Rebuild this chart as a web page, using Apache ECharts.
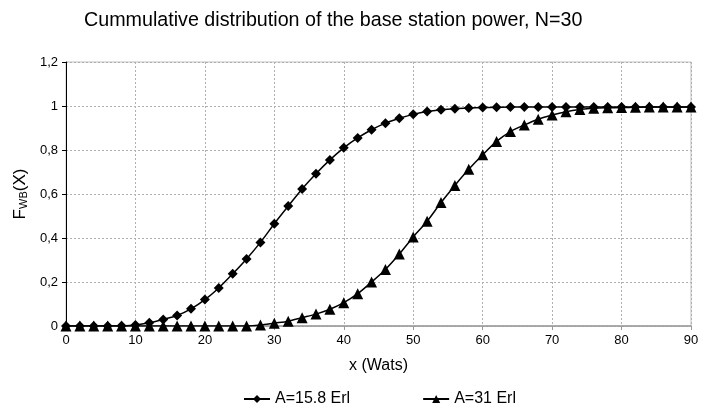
<!DOCTYPE html>
<html>
<head>
<meta charset="utf-8">
<script src="https://cdn.jsdelivr.net/npm/echarts@6/dist/echarts.min.js"></script>
<style>
  html, body { margin: 0; padding: 0; background: #fff; }
  #chart { width: 702px; height: 412px; }
</style>
</head>
<body>
<div id="chart"></div>
<script>
  // x values (Wats), one point every 2
  var xValues = [0, 2, 4, 6, 8, 10, 12, 14, 16, 18, 20, 22, 24, 26, 28, 30, 32, 34, 36, 38,
    40, 42, 44, 46, 48, 50, 52, 54, 56, 58, 60, 62, 64, 66, 68, 70, 72, 74, 76, 78,
    80, 82, 84, 86, 88, 90];

  // A=15.8 Erl
  var cdfA158 = [0, 0, 0, 0, 0.001, 0.005, 0.015, 0.03, 0.048, 0.078, 0.12, 0.173, 0.237, 0.305, 0.38, 0.465,
    0.545, 0.623, 0.692, 0.755, 0.81, 0.855, 0.892, 0.922, 0.944, 0.962, 0.975, 0.983, 0.988, 0.991,
    0.993, 0.994, 0.995, 0.995, 0.995, 0.995, 0.995, 0.995, 0.995, 0.995,
    0.995, 0.995, 0.995, 0.995, 0.995, 0.995];

  // A=31 Erl
  var cdfA31 = [0, 0, 0, 0, 0, 0, 0, 0, 0, 0, 0, 0, 0, 0, 0.004, 0.013,
    0.022, 0.038, 0.054, 0.076, 0.106, 0.147, 0.2, 0.257, 0.327, 0.405, 0.476, 0.561, 0.639, 0.712,
    0.778, 0.839, 0.884, 0.914, 0.94, 0.959, 0.974, 0.984, 0.99, 0.992,
    0.993, 0.994, 0.995, 0.995, 0.995, 0.995];

  var yTicks = ['0', '0,2', '0,4', '0,6', '0,8', '1', '1,2'];

  function pairs(ys) {
    return xValues.map(function (x, i) { return [x, ys[i]]; });
  }

  var font = 'Liberation Sans, Arial, sans-serif';
  var myChart = echarts.init(document.getElementById('chart'));
  myChart.setOption({
    animation: false,
    textStyle: { fontFamily: font },
    title: {
      text: 'Cummulative distribution of the base station power, N=30',
      left: 79,
      top: 6,
      textStyle: { fontSize: 19.7, fontWeight: 'normal', color: '#000', fontFamily: font }
    },
    grid: {
      left: 66,
      right: 11,
      top: 62,
      bottom: 86,
      show: true,
      borderColor: '#c0c0c0',
      borderWidth: 1
    },
    legend: {
      left: 238,
      top: 386,
      itemGap: 72,
      itemWidth: 26,
      itemHeight: 10,
      itemTextGap: 4,
      textStyle: { fontSize: 16, color: '#000', fontFamily: font },
      data: ['A=15.8 Erl', 'A=31 Erl']
    },
    xAxis: {
      type: 'value',
      min: 0,
      max: 90,
      interval: 10,
      name: 'x (Wats)',
      nameLocation: 'middle',
      nameGap: 32,
      nameTextStyle: { fontSize: 16, color: '#000' },
      axisLine: { lineStyle: { color: '#999', width: 1.5 } },
      axisTick: { show: true, length: 4, lineStyle: { color: '#999' } },
      axisLabel: { fontSize: 13, color: '#000', margin: 8 },
      splitLine: { show: true, lineStyle: { color: '#b0b0b0', type: [2, 2] } }
    },
    yAxis: {
      type: 'value',
      min: 0,
      max: 1.2,
      interval: 0.2,
      name: 'F{sub|WB}(X)',
      nameLocation: 'middle',
      nameGap: 36,
      nameTextStyle: {
        fontSize: 17,
        color: '#000',
        rich: { sub: { fontSize: 11, color: '#000', verticalAlign: 'bottom', padding: [7, 0, 0, 0] } }
      },
      axisLine: { show: true, lineStyle: { color: '#000', width: 1 } },
      axisTick: { show: true, length: 4, lineStyle: { color: '#000' } },
      axisLabel: {
        fontSize: 13,
        color: '#000',
        margin: 8,
        formatter: function (v) { return yTicks[Math.round(v / 0.2)]; }
      },
      splitLine: { show: true, lineStyle: { color: '#b0b0b0', type: [2, 2] } }
    },
    series: [{
      name: 'A=15.8 Erl',
      type: 'line',
      data: pairs(cdfA158),
      symbol: 'diamond',
      symbolSize: 10,
      smooth: 0.3,
      lineStyle: { color: '#000', width: 1.5 },
      itemStyle: { color: '#000' }
    }, {
      name: 'A=31 Erl',
      type: 'line',
      data: pairs(cdfA31),
      symbol: 'triangle',
      symbolSize: 11,
      smooth: 0.3,
      lineStyle: { color: '#000', width: 1.5 },
      itemStyle: { color: '#000' }
    }]
  });
</script>
</body>
</html>
